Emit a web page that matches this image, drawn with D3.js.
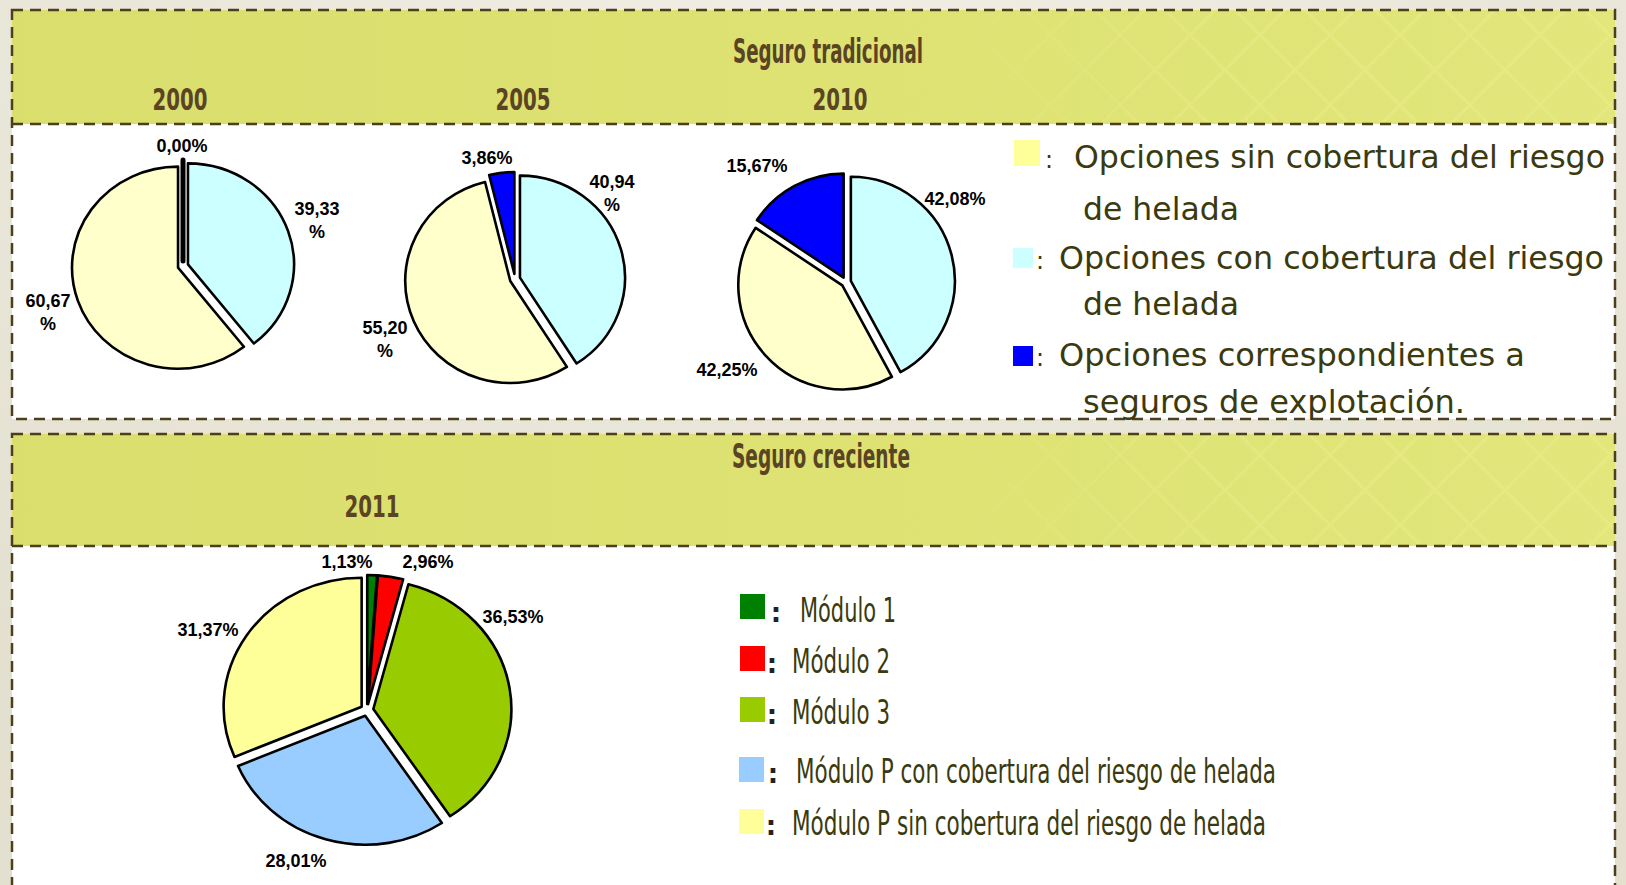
<!DOCTYPE html>
<html><head><meta charset="utf-8">
<script src="https://cdn.jsdelivr.net/npm/d3@7"></script>
<style>
html,body{margin:0;padding:0;background:#e7e4d6;overflow:hidden;}
svg{display:block;}
</style></head>
<body><svg id="c" width="1626" height="885"></svg>
<script>
// ---------- DATA ----------
const sectionTitles = ["Seguro tradicional", "Seguro creciente"];
const tradYears = ["2000", "2005", "2010"];
// slice order clockwise from 12 o'clock: con cobertura, sin cobertura, explotación
const tradCategories = ["con cobertura", "sin cobertura", "explotación"];
const values2000 = [39.33, 60.67, 0.00];
const values2005 = [40.94, 55.20, 3.86];
const values2010 = [42.08, 42.25, 15.67];
const tradColors = ["#ccffff", "#ffffcc", "#0000ff"];
const tradLegend = [
  {color: "#ffff99", lines: ["Opciones sin cobertura del riesgo", "de helada"]},
  {color: "#ccffff", lines: ["Opciones con cobertura del riesgo", "de helada"]},
  {color: "#0000ff", lines: ["Opciones correspondientes a", "seguros de explotación."]}
];
const crecYear = "2011";
const crecCategories = ["Módulo 1", "Módulo 2", "Módulo 3",
  "Módulo P con cobertura del riesgo de helada", "Módulo P sin cobertura del riesgo de helada"];
const values2011 = [1.13, 2.96, 36.53, 28.01, 31.37];
const crecColors = ["#008000", "#ff0000", "#99cc00", "#99ccff", "#ffff99"];

// ---------- LAYOUT ----------
const W = 1626, H = 885;
const svg = d3.select("#c");
const fmt = v => d3.format(".2f")(v).replace(".", ",");
const DASH = "#4d3f1c";
const headFont = "'Liberation Sans Narrow','DejaVu Sans Condensed','Roboto Condensed',sans-serif";

const defs = svg.append("defs");
const grad = defs.append("linearGradient").attr("id", "band").attr("x1", 0).attr("x2", 1);
grad.append("stop").attr("offset", 0).attr("stop-color", "#d9de6d");
grad.append("stop").attr("offset", 0.5).attr("stop-color", "#dde272");
grad.append("stop").attr("offset", 1).attr("stop-color", "#e2e67b");
const pat = defs.append("pattern").attr("id", "lattice").attr("width", 70).attr("height", 70)
  .attr("patternUnits", "userSpaceOnUse");
pat.append("path").attr("d", "M0,35 L35,0 L70,35 L35,70 Z").attr("fill", "none")
  .attr("stroke", "#eef08e").attr("stroke-width", 3).attr("opacity", 0.35);
const fade = defs.append("linearGradient").attr("id", "fadeMask").attr("x1", 0).attr("x2", 1);
fade.append("stop").attr("offset", 0.55).attr("stop-color", "#fff").attr("stop-opacity", 0);
fade.append("stop").attr("offset", 0.75).attr("stop-color", "#fff").attr("stop-opacity", 1);
defs.append("mask").attr("id", "m1").append("rect").attr("width", W).attr("height", H).attr("fill", "url(#fadeMask)");

// background lighter at top
const bg = defs.append("radialGradient").attr("id", "bgg").attr("cx", 0.5).attr("cy", 0).attr("r", 0.9);
bg.append("stop").attr("offset", 0).attr("stop-color", "#f0eee4");
bg.append("stop").attr("offset", 1).attr("stop-color", "#e3e0d0");
svg.append("rect").attr("width", W).attr("height", H).attr("fill", "url(#bgg)");

function box(y0, y1, bandBottom) {
  svg.append("rect").attr("x", 12).attr("y", y0).attr("width", 1603).attr("height", y1 - y0).attr("fill", "#fff");
  svg.append("rect").attr("x", 12).attr("y", y0).attr("width", 1603).attr("height", bandBottom - y0).attr("fill", "url(#band)");
  svg.append("rect").attr("x", 12).attr("y", y0).attr("width", 1603).attr("height", bandBottom - y0)
    .attr("fill", "url(#lattice)").attr("mask", "url(#m1)");
  svg.append("rect").attr("x", 12).attr("y", y0).attr("width", 1603).attr("height", y1 - y0)
    .attr("fill", "none").attr("stroke", DASH).attr("stroke-width", 2.5).attr("stroke-dasharray", "11 7");
  svg.append("line").attr("x1", 12).attr("x2", 1615).attr("y1", bandBottom).attr("y2", bandBottom)
    .attr("stroke", DASH).attr("stroke-width", 2.5).attr("stroke-dasharray", "11 7");
}
box(10, 419, 124);
box(434, 930, 546);

function headText(t, x, y, size, len) {
  svg.append("text").attr("x", x).attr("y", y).attr("text-anchor", "middle")
    .attr("font-family", headFont).attr("font-weight", "bold").attr("font-size", size)
    .attr("fill", "#5a4424").attr("textLength", len).attr("lengthAdjust", "spacingAndGlyphs").text(t);
}
headText(sectionTitles[0], 828, 63, 34, 190);
headText(sectionTitles[1], 821, 468, 34, 178);
const yearX = [180, 523, 840];
tradYears.forEach((y, i) => headText(y, yearX[i], 110, 30, 55));
headText(crecYear, 372, 517, 30, 55);

// ---------- PIES ----------
const pies = [
  {values: values2000, colors: tradColors, cx: 183, cy: 266, ry: 101, sx: 1.05, off: 5,
   labels: [[317, 208, true], [48, 300, true], [182, 145, false]]},
  {values: values2005, colors: tradColors, cx: 515, cy: 279, ry: 102, sx: 1.03, off: 5,
   labels: [[612, 181, true], [385, 327, true], [487, 157, false]]},
  {values: values2010, colors: tradColors, cx: 846, cy: 282, ry: 104, sx: 1.0, off: 5,
   labels: [[955, 198, false], [727, 369, false], [757, 165, false]]},
  {values: values2011, colors: crecColors, cx: 367, cy: 710, ry: 129, sx: 1.07, off: 6,
   labels: [[347, 561, false], [428, 561, false], [513, 616, false], [296, 860, false], [208, 629, false]]}
];

pies.forEach(P => {
  const arcs = d3.pie().sort(null).value(d => d)(P.values);
  const arc = d3.arc().innerRadius(0).outerRadius(P.ry);
  const g = svg.append("g").attr("transform", `translate(${P.cx},${P.cy}) scale(${P.sx},1)`);
  g.selectAll("path").data(arcs).join("path")
    .attr("d", arc)
    .attr("transform", d => {
      const a = (d.startAngle + d.endAngle) / 2;
      return `translate(${Math.sin(a) * P.off},${-Math.cos(a) * P.off})`;
    })
    .attr("fill", (d, i) => P.colors[i])
    .attr("stroke", "#000")
    .attr("stroke-width", d => d.value === 0 ? 5 : 2.6)
    .attr("stroke-linejoin", "round")
    .attr("vector-effect", "non-scaling-stroke");

  arcs.forEach((d, i) => {
    const [lx, ly, split] = P.labels[i];
    const t = svg.append("text").attr("text-anchor", "middle")
      .attr("font-family", "'Liberation Sans',Arial,sans-serif").attr("font-weight", "bold")
      .attr("font-size", 18).attr("fill", "#000");
    if (split) {
      t.append("tspan").attr("x", lx).attr("y", ly + 7).text(fmt(d.value));
      t.append("tspan").attr("x", lx).attr("y", ly + 30).text("%");
    } else {
      t.attr("x", lx).attr("y", ly + 7).text(fmt(d.value) + "%");
    }
  });
});

// ---------- LEGENDS ----------
const legFont = "'DejaVu Sans',Verdana,sans-serif";
const tl = [
  {sw: [1014, 140, 26, 26], colon: 1049, x1: 1074, len1: 531, b1: 168, b2: 220, len2: 156},
  {sw: [1013, 248, 20, 20], colon: 1040, x1: 1059, len1: 545, b1: 269, b2: 315, len2: 156},
  {sw: [1013, 346, 20, 20], colon: 1040, x1: 1059, len1: 466, b1: 366, b2: 413, len2: 382}
];
tradLegend.forEach((L, i) => {
  const p = tl[i];
  svg.append("rect").attr("x", p.sw[0]).attr("y", p.sw[1]).attr("width", p.sw[2]).attr("height", p.sw[3]).attr("fill", L.color);
  const st = sel => sel.attr("font-family", legFont).attr("font-size", 31.5).attr("fill", "#3a3a0e");
  st(svg.append("text")).attr("x", p.colon).attr("y", p.b1).attr("text-anchor", "middle").attr("font-size", 24).text(":");
  st(svg.append("text")).attr("x", p.x1).attr("y", p.b1).attr("textLength", p.len1).attr("lengthAdjust", "spacingAndGlyphs").text(L.lines[0]);
  st(svg.append("text")).attr("x", 1083).attr("y", p.b2).attr("textLength", p.len2).attr("lengthAdjust", "spacingAndGlyphs").text(L.lines[1]);
});

const bl = [
  {sw: [740, 594, 25, 25], colon: 776, x: 800, len: 96, b: 622},
  {sw: [740, 646, 25, 25], colon: 772, x: 792, len: 98, b: 673},
  {sw: [740, 697, 25, 25], colon: 772, x: 792, len: 98, b: 724},
  {sw: [739, 757, 25, 25], colon: 773, x: 796, len: 480, b: 783},
  {sw: [739, 809, 25, 25], colon: 771, x: 792, len: 474, b: 835}
];
crecCategories.forEach((c, i) => {
  const p = bl[i];
  svg.append("rect").attr("x", p.sw[0]).attr("y", p.sw[1]).attr("width", p.sw[2]).attr("height", p.sw[3]).attr("fill", crecColors[i]);
  svg.append("text").attr("x", p.colon).attr("y", p.b).attr("text-anchor", "middle")
    .attr("font-family", legFont).attr("font-size", 26).attr("font-weight", "bold").attr("fill", "#222").text(":");
  svg.append("text").attr("x", p.x).attr("y", p.b).attr("font-family", headFont).attr("font-size", 33)
    .attr("fill", "#3a3a0e").attr("textLength", p.len).attr("lengthAdjust", "spacingAndGlyphs").text(c);
});
</script>
</body></html>
